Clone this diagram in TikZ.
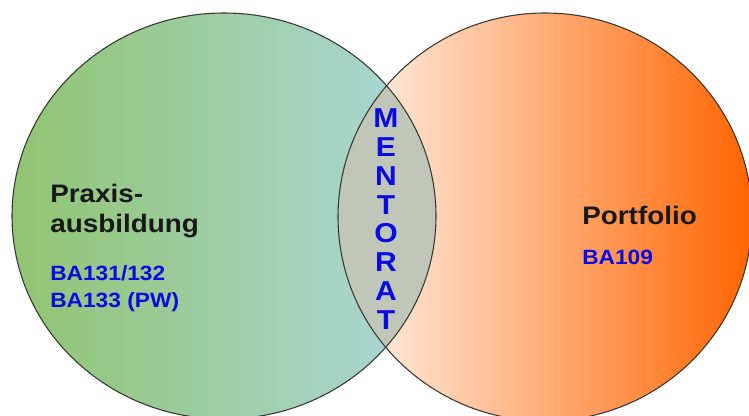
\documentclass[tikz,border=0pt]{standalone}
\usepackage{fontspec}
\setmainfont{Liberation Sans}
\newfontfamily\widesans[FakeStretch=1.1]{Liberation Sans}
\usetikzlibrary{positioning}
\definecolor{praxisgreen}{RGB}{144,196,112}
\definecolor{praxisteal}{RGB}{172,216,220}
\definecolor{foliowhite}{RGB}{255,246,240}
\definecolor{folioorange}{RGB}{255,100,0}
\definecolor{lensgrey}{RGB}{193,199,184}
\definecolor{rimgrey}{RGB}{55,55,50}
\definecolor{codeblue}{RGB}{10,10,225}

\begin{document}
\begin{tikzpicture}[
    x=0.75pt, y=-0.75pt,
    title/.style={anchor=base west, inner sep=0pt, font=\widesans\bfseries\fontsize{19}{22.5}\selectfont, text=black!90},
    code/.style={anchor=base west, inner sep=0pt, font=\widesans\bfseries\fontsize{15.5}{20}\selectfont, text=codeblue},
    mentor/.style={inner sep=0pt, align=center, font=\widesans\bfseries\fontsize{20.5}{21.6}\selectfont, text=codeblue},
    rim/.style={draw=rimgrey, line width=0.8pt}
]
    \useasboundingbox (0,0) rectangle (749,416);
    \clip (0,0) rectangle (749,416);

    % the two sets
    \shade[left color=praxisgreen, right color=praxisteal] (224,216) ellipse (212 and 203);
    \shade[left color=foliowhite, right color=folioorange] (545,217) ellipse (207 and 204);
    \begin{scope}
        \clip (224,216) ellipse (212 and 203);
        \fill[lensgrey] (545,217) ellipse (207 and 204);
    \end{scope}
    \draw[rim] (224,216) ellipse (212 and 203);
    \draw[rim] (545,217) ellipse (207 and 204);

    \node[title] (praxis) at (50,203) {Praxis-};
    \node[title] (ausbildung) at (50,233) {ausbildung};
    \node[code] (ba131) at (50,281) {BA131/132};
    \node[code] (ba133) at (50,308) {BA133 (PW)};

    \node[title] (portfolio) at (582,225) {Portfolio};
    \node[code] (ba109) at (582,265) {BA109};

    \node[mentor] (mentorat) at (386,219) {M\\E\\N\\T\\O\\R\\A\\T};
\end{tikzpicture}
\end{document}
